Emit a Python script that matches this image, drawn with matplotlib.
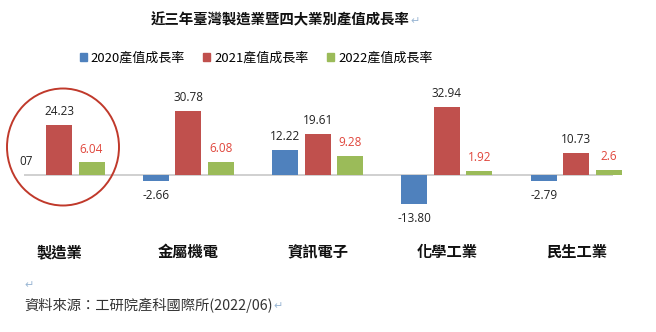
import matplotlib
matplotlib.use("Agg")
import matplotlib.pyplot as plt
from matplotlib.patches import Ellipse, Patch
import numpy as np

# Output value growth (%) of Taiwan manufacturing and its four sub-sectors
categories = ["製造業", "金屬機電", "資訊電子", "化學工業", "民生工業"]
series_names = ["2020產值成長率", "2021產值成長率", "2022產值成長率"]
growth_2020 = [0.07, -2.66, 12.22, -13.80, -2.79]
growth_2021 = [24.23, 30.78, 19.61, 32.94, 10.73]
growth_2022 = [6.04, 6.08, 9.28, 1.92, 2.6]
labels_2020 = ["07", "-2.66", "12.22", "-13.80", "-2.79"]
labels_2021 = ["24.23", "30.78", "19.61", "32.94", "10.73"]
labels_2022 = ["6.04", "6.08", "9.28", "1.92", "2.6"]

bar_colors = ["#4f81bd", "#c0504d", "#9bbb59"]
label_colors = ["#222222", "#222222", "#e0463c"]

CJK = ["Noto Sans CJK TC", "DejaVu Sans"]
NUM = ["Open Sans", "DejaVu Sans"]
RETURN_COLOR = "#9bb7d4"

W, H = 656, 332
fig = plt.figure(figsize=(W / 100, H / 100), dpi=100)
ax = fig.add_axes([0, 0, 1, 1])
ax.set_axis_off()

# pixel layout: first group at x=59, groups 129.3 px apart, baseline 175 px from top
gstep = 129.3
yscale = 2.07
ax.set_xlim(-59 / gstep, (W - 59) / gstep)
ax.set_ylim(-(H - 175) / yscale, 175 / yscale)

x = np.arange(len(categories))
offset = 32.5 / gstep
width = 26 / gstep

all_vals = [growth_2020, growth_2021, growth_2022]
all_labels = [labels_2020, labels_2021, labels_2022]
for k, (vals, labs) in enumerate(zip(all_vals, all_labels)):
    xs = x + (k - 1) * offset
    ax.bar(xs, vals, width=width, color=bar_colors[k], zorder=2)
    for xi, v, lab in zip(xs, vals, labs):
        if v >= 0:
            ax.annotate(lab, (xi, v), xytext=(0, 5), textcoords="offset points",
                        ha="center", va="bottom", fontsize=8.5,
                        color=label_colors[k], family=NUM)
        else:
            ax.annotate(lab, (xi, v), xytext=(0, -6), textcoords="offset points",
                        ha="center", va="top", fontsize=8.5,
                        color=label_colors[k], family=NUM)

# baseline
ax.hlines(0, x[0] - 35 / gstep, x[-1] + 37 / gstep, color="#c8c8c8", lw=1.2, zorder=1)

# category names under the chart
for xi, cat in zip(x, categories):
    ax.text(xi, -(252 - 175) / yscale, cat, ha="center", va="center",
            fontsize=11, fontweight="bold", family=CJK, color="#111111")

# highlight ring around overall manufacturing
ax.add_patch(Ellipse((x[0] + 4 / gstep, 28 / yscale), 112 / gstep, 117 / yscale,
                     fill=False, edgecolor="#c0392b", lw=1.4, zorder=3))


def return_mark(txt):
    # paragraph mark trailing a line of text
    ax.annotate("↵", xy=(1, 0.5), xycoords=txt, xytext=(0.5, -1),
                textcoords="offset points", ha="left", va="center",
                fontsize=8, family=CJK, color=RETURN_COLOR)


# title
title = fig.text(280 / W, 1 - 20 / H, "近三年臺灣製造業暨四大業別產值成長率",
                 ha="center", va="center", fontsize=10.4, fontweight="bold",
                 family=CJK, color="#111111")
return_mark(title)

# legend
handles = [Patch(color=c) for c in bar_colors]
fig.legend(handles, series_names, loc="center", bbox_to_anchor=(256 / W, 1 - 58 / H),
           ncol=3, frameon=False, handlelength=0.55, handleheight=0.55,
           handletextpad=0.3, columnspacing=1.4,
           prop={"family": CJK, "size": 9.4, "weight": "medium"})

# source note
fig.text(24 / W, 1 - 285 / H, "↵", ha="left", va="center", fontsize=8,
         family=CJK, color=RETURN_COLOR)
source = fig.text(24 / W, 1 - 305 / H, "資料來源：工研院產科國際所(2022/06)",
                  ha="left", va="center", fontsize=10.3, family=CJK, color="#333333")
return_mark(source)

fig.savefig("out.png", dpi=100)
